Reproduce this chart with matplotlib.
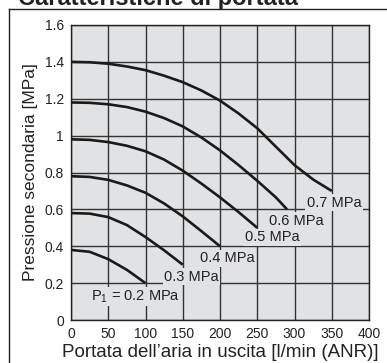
import matplotlib
matplotlib.use("Agg")
import matplotlib.pyplot as plt
from matplotlib.lines import Line2D

plt.rcParams['font.family'] = ['Liberation Sans', 'DejaVu Sans']
plt.rcParams['mathtext.fontset'] = 'custom'
plt.rcParams['mathtext.rm'] = 'Liberation Sans'
plt.rcParams['mathtext.it'] = 'Liberation Sans'

# Data
flow_07 = [0, 25, 50, 75, 100, 125, 150, 175, 200, 225, 250, 275, 300, 325, 350]
press_07 = [1.40, 1.398, 1.39, 1.375, 1.355, 1.325, 1.29, 1.245, 1.19, 1.12, 1.04, 0.94, 0.84, 0.762, 0.70]
flow_06 = [0, 25, 50, 75, 100, 125, 150, 175, 200, 225, 250, 275, 290]
press_06 = [1.18, 1.178, 1.17, 1.155, 1.13, 1.095, 1.05, 0.99, 0.92, 0.84, 0.755, 0.665, 0.60]
flow_05 = [0, 25, 50, 75, 100, 125, 150, 175, 200, 225, 250]
press_05 = [0.98, 0.977, 0.965, 0.945, 0.915, 0.87, 0.81, 0.74, 0.665, 0.585, 0.50]
flow_04 = [0, 25, 50, 75, 100, 125, 150, 175, 200]
press_04 = [0.78, 0.776, 0.76, 0.73, 0.69, 0.632, 0.562, 0.482, 0.40]
flow_03 = [0, 25, 50, 75, 100, 125, 150]
press_03 = [0.58, 0.577, 0.558, 0.515, 0.45, 0.378, 0.30]
flow_02 = [0, 25, 50, 75, 100]
press_02 = [0.38, 0.37, 0.33, 0.272, 0.20]

curve_labels = ["0.7 MPa", "0.6 MPa", "0.5 MPa", "0.4 MPa", "0.3 MPa", "P$_1$ = 0.2 MPa"]
label_x = [353, 302, 270, 210, 162, 87]
label_y = [0.636, 0.538, 0.448, 0.334, 0.234, 0.128]

x_ticks = [0, 50, 100, 150, 200, 250, 300, 350, 400]
y_ticks = [0, 0.2, 0.4, 0.6, 0.8, 1.0, 1.2, 1.4, 1.6]
y_tick_labels = ["0", "0.2", "0.4", "0.6", "0.8", "1", "1.2", "1.4", "1.6"]

title = "Caratteristiche di portata"
x_label = "Portata dell\u2019aria in uscita [l/min (ANR)]"
y_label = "Pressione secondaria [MPa]"

W, H = 387, 363
fig = plt.figure(figsize=(W / 100, H / 100), dpi=100)
fig.patch.set_facecolor('white')
ax = fig.add_axes([71 / W, 1 - 320 / H, (369 - 71) / W, (320 - 25) / H])
bg = '#e1e2e4'
ax.set_facecolor(bg)

ax.set_xlim(0, 400)
ax.set_ylim(0, 1.6)
ax.set_xticks(x_ticks)
ax.set_yticks(y_ticks)
ax.set_yticklabels(y_tick_labels)
ax.tick_params(length=0, labelsize=10, pad=5, colors='#222222')
ax.set_axisbelow(True)
ax.grid(True, color='#333333', lw=1.0)
for s in ax.spines.values():
    s.set_color('#222222')
    s.set_linewidth(1.0)

series = [(flow_07, press_07), (flow_06, press_06), (flow_05, press_05),
          (flow_04, press_04), (flow_03, press_03), (flow_02, press_02)]
for fx, py in series:
    ax.plot(fx, py, color='#1a1a1a', lw=1.9, solid_capstyle='butt',
            solid_joinstyle='round', zorder=4)

for txt, lx, ly in zip(curve_labels, label_x, label_y):
    ax.text(lx, ly, txt, ha='center', va='center', fontsize=10.5, color='#222222',
            zorder=3, bbox=dict(boxstyle='square,pad=0.1', fc=bg, ec='none'))

ax.set_xlabel(x_label, fontsize=13.5, color='#222222', labelpad=2)
ax.set_ylabel(y_label, fontsize=12.5, color='#222222', labelpad=5)

# outer frame (cropped) and title
fig.add_artist(Line2D([9 / W, 9 / W], [0, 1 - 9 / H], transform=fig.transFigure, color='#222222', lw=1.0))
fig.add_artist(Line2D([9 / W, 1], [1 - 9 / H, 1 - 9 / H], transform=fig.transFigure, color='#222222', lw=1.0))
fig.text(18 / W, 1 - 5 / H, title, fontsize=17, fontweight='bold', ha='left', va='baseline', color='#222222')

fig.savefig('out.png', dpi=100)
